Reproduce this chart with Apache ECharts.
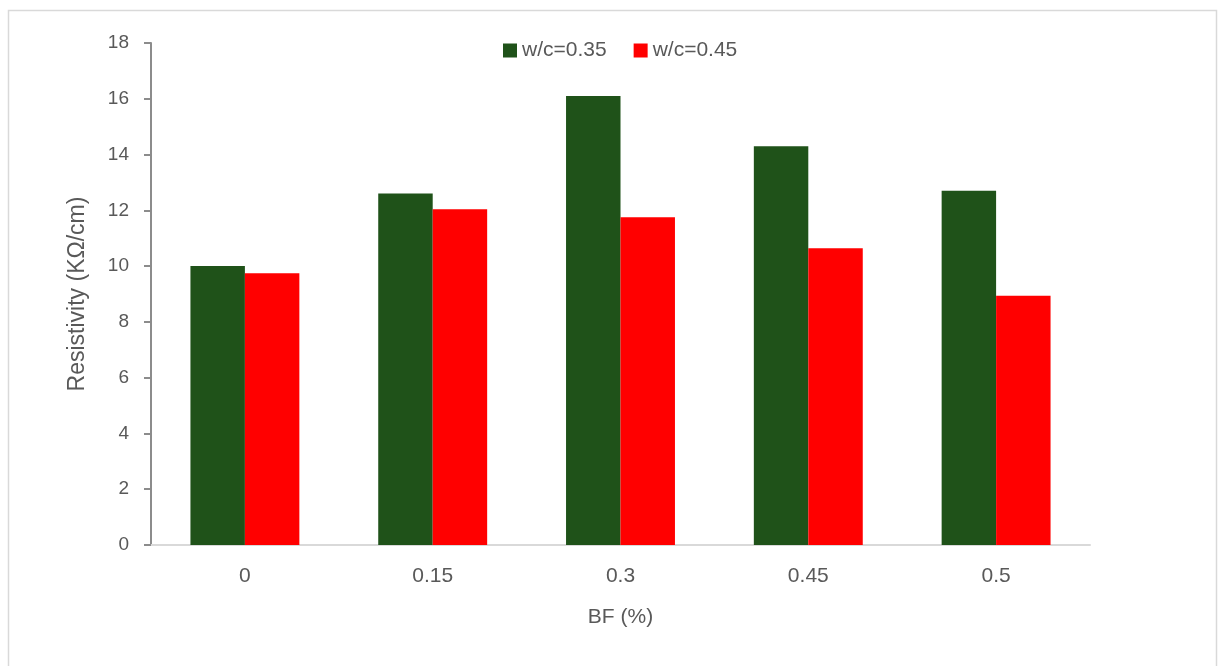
<!DOCTYPE html>
<html>
<head>
<meta charset="utf-8">
<script src="https://cdn.jsdelivr.net/npm/echarts@6/dist/echarts.min.js"></script>
<style>
html,body{margin:0;padding:0;background:#fff;}
#chart{width:1225px;height:666px;}
</style>
</head>
<body>
<div id="chart"></div>
<script>
var categories = ['0', '0.15', '0.3', '0.45', '0.5'];
var seriesNames = ['w/c=0.35', 'w/c=0.45'];
var wc035 = [10.0, 12.6, 16.1, 14.3, 12.7];
var wc045 = [9.74, 12.04, 11.75, 10.64, 8.94];
var yTicks = {min: 0, max: 18, interval: 2};

var chart = echarts.init(document.getElementById('chart'), null, {renderer: 'canvas'});
var font = "'Liberation Sans', 'DejaVu Sans', sans-serif";
var option = {
  backgroundColor: '#ffffff',
  animation: false,
  graphic: [{
    type: 'rect',
    shape: {x: 8.5, y: 10.5, width: 1208, height: 700},
    style: {fill: 'none', stroke: '#d9d9d9', lineWidth: 1.5},
    silent: true, z: -1
  }],
  legend: {
    data: seriesNames,
    top: 35,
    left: 498,
    itemWidth: 14,
    itemHeight: 14,
    itemGap: 27,
    icon: 'rect',
    textStyle: {fontFamily: font, fontSize: 21, color: '#595959'}
  },
  grid: {left: 151, right: 135, top: 43, bottom: 121, containLabel: false},
  xAxis: {
    type: 'category',
    data: categories,
    name: 'BF (%)',
    nameLocation: 'middle',
    nameGap: 62,
    nameTextStyle: {fontFamily: font, fontSize: 21, color: '#595959'},
    axisLine: {show: true, lineStyle: {color: '#d9d9d9', width: 2}},
    axisTick: {show: false},
    axisLabel: {fontFamily: font, fontSize: 21, color: '#595959', margin: 21}
  },
  yAxis: {
    type: 'value',
    min: yTicks.min,
    max: yTicks.max,
    interval: yTicks.interval,
    name: 'Resistivity (KΩ/cm)',
    nameLocation: 'middle',
    nameGap: 62,
    nameTextStyle: {fontFamily: font, fontSize: 23, color: '#595959'},
    axisLine: {show: true, lineStyle: {color: '#8c8c8c', width: 2}},
    axisTick: {show: true, length: 7, lineStyle: {color: '#8c8c8c', width: 2}},
    splitLine: {show: false},
    axisLabel: {fontFamily: font, fontSize: 19, color: '#595959', margin: 22}
  },
  series: [
    {name: seriesNames[0], type: 'bar', data: wc035, barGap: '0%', barCategoryGap: '42%',
     itemStyle: {color: '#1f5219'}},
    {name: seriesNames[1], type: 'bar', data: wc045, barGap: '0%', barCategoryGap: '42%',
     itemStyle: {color: '#ff0000'}}
  ]
};
chart.setOption(option);
</script>
</body>
</html>
